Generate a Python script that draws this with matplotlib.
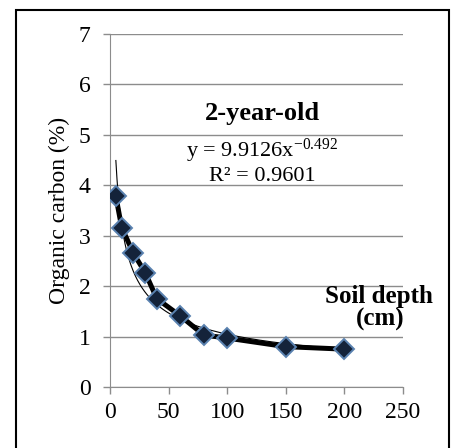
import numpy as np
import matplotlib.pyplot as plt
from matplotlib.patches import Rectangle

plt.rcParams['font.family'] = ['Liberation Serif', 'DejaVu Serif']
plt.rcParams['mathtext.fontset'] = 'custom'
plt.rcParams['mathtext.rm'] = 'Liberation Serif'
plt.rcParams['mathtext.it'] = 'Liberation Serif:italic'

depth = [5, 10, 20, 30, 40, 60, 80, 100, 150, 200]
carbon = [3.78, 3.16, 2.65, 2.27, 1.75, 1.41, 1.03, 0.97, 0.80, 0.75]
x_ticks = [0, 50, 100, 150, 200, 250]
y_ticks = [0, 1, 2, 3, 4, 5, 6, 7]

# power trendline y = a * x^b fitted in log space
b, log_a = np.polyfit(np.log(depth), np.log(carbon), 1)
fit_x = np.linspace(min(depth), max(depth), 200)
fit_y = np.exp(log_a) * fit_x ** b

fig = plt.figure(figsize=(4.51, 4.48), dpi=100)
ax = fig.add_axes([0.2439, 0.1362, 0.6497, 0.7879])

ax.plot(fit_x, fit_y, color="black", linewidth=0.8, zorder=3)
ax.plot(depth, carbon, color="black", linewidth=3.6, marker="D",
        markersize=10, markerfacecolor="#14233a", markeredgecolor="#5a82b0",
        markeredgewidth=1.4, zorder=4)

ax.set_xlim(0, 250)
ax.set_ylim(0, 7)
ax.set_xticks(x_ticks)
ax.set_yticks(y_ticks)
ax.yaxis.grid(True, color="#8c8c8c", linewidth=1)
ax.set_axisbelow(True)
for side in ["top", "right"]:
    ax.spines[side].set_visible(False)
for side in ["left", "bottom"]:
    ax.spines[side].set_color("#8c8c8c")
ax.tick_params(axis="both", colors="#8c8c8c", labelcolor="black",
               labelsize=17, length=5, width=1)
ax.tick_params(axis="x", pad=6)
ax.tick_params(axis="y", pad=9)
ax.set_ylabel("Organic carbon (%)", fontsize=17, labelpad=6)

ax.text(0.52, 0.776, "2-year-old", transform=ax.transAxes, ha="center",
        va="center", fontsize=19, fontweight="bold")
ax.text(0.52, 0.668, "y = 9.9126x$^{\\mathrm{-0.492}}$", transform=ax.transAxes,
        ha="center", va="center", fontsize=16)
ax.text(0.52, 0.595, "R² = 0.9601", transform=ax.transAxes, ha="center",
        va="center", fontsize=16)
ax.text(0.918, 0.255, "Soil depth", transform=ax.transAxes, ha="center",
        va="center", fontsize=18, fontweight="bold")
ax.text(1.005, 0.19, "(cm)", transform=ax.transAxes, ha="right",
        va="center", fontsize=18, fontweight="bold")

fig.patches.append(Rectangle((16 / 451, -0.05), 433 / 451, 1.05 - 10 / 448,
                             transform=fig.transFigure, fill=False,
                             edgecolor="black", linewidth=1.5))

fig.savefig("out.png", dpi=100)
